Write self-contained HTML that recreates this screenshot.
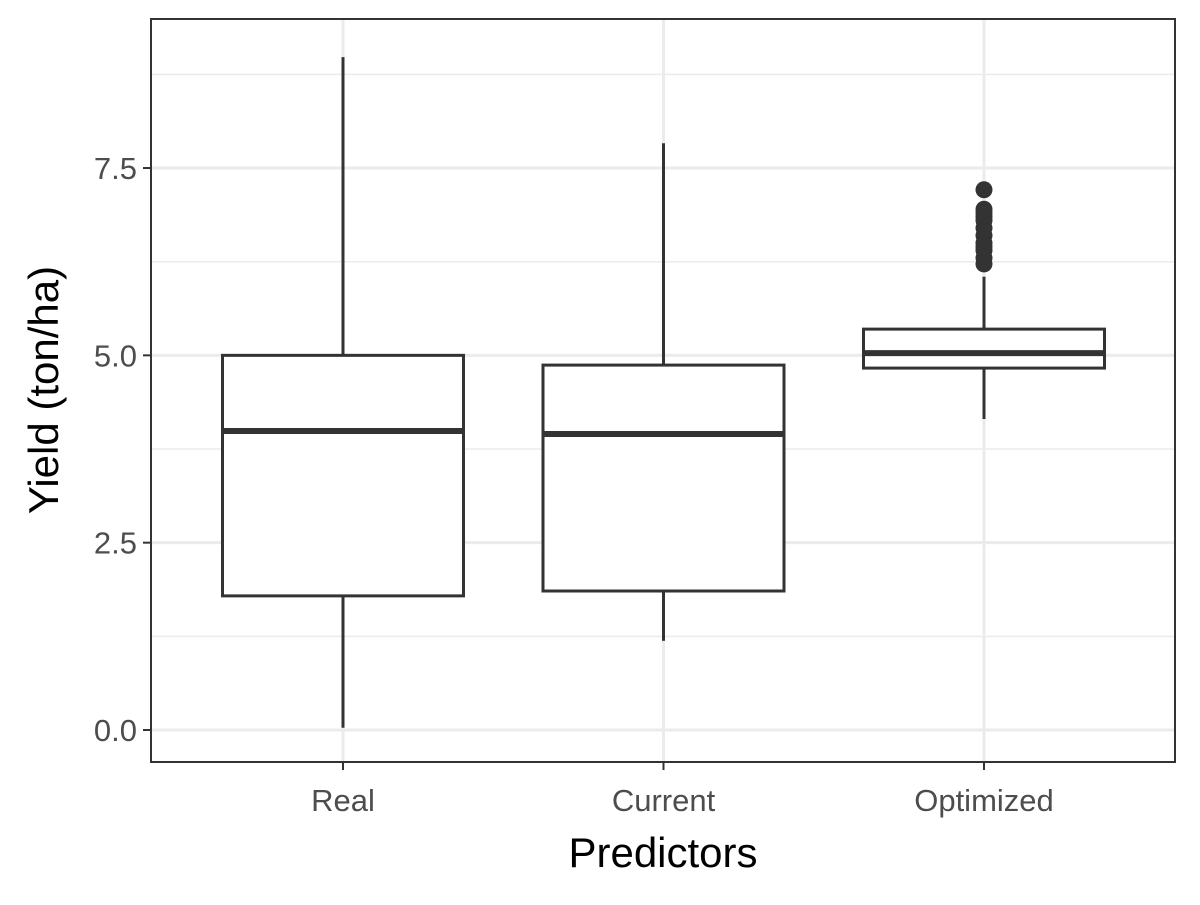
<!DOCTYPE html>
<html><head><meta charset="utf-8"><style>body{margin:0;background:#fff}</style></head><body>
<svg id="chart" width="1200" height="900" xmlns="http://www.w3.org/2000/svg" font-family="Liberation Sans, sans-serif">
<rect width="1200" height="900" fill="#fff"/>
<g id="grid"></g><g id="marks"></g><g id="axes"></g>
<text x="663" y="867" font-size="42" text-anchor="middle" fill="#000">Predictors</text>
<text transform="translate(58,390) rotate(-90)" font-size="42" text-anchor="middle" fill="#000">Yield (ton/ha)</text>
</svg>
<script>
const categories=["Real","Current","Optimized"];
const lowerWhisker=[0.03,1.19,4.15];
const q1=[1.79,1.855,4.83];
const median=[3.99,3.95,5.03];
const q3=[5.0,4.87,5.35];
const upperWhisker=[8.98,7.83,6.05];
const outliers=[[],[],[7.21,6.95,6.9,6.85,6.8,6.7,6.6,6.5,6.45,6.4,6.3,6.22]];
const yTicks=[0,2.5,5,7.5];
const yTickLabels=["0.0","2.5","5.0","7.5"];
const NS="http://www.w3.org/2000/svg";
const L=151,R=1175,T=19,B=762;
const y=v=>730-v*74.93;
const x=i=>343+i*320.5;
const hw=120.5;
function mk(p,tag,a){const e=document.createElementNS(NS,tag);for(const k in a)e.setAttribute(k,a[k]);p.appendChild(e);return e;}
const g=document.getElementById('grid'),m=document.getElementById('marks'),ax=document.getElementById('axes');
for(let i=0;i<yTicks.length;i++){
 if(i<yTicks.length-1){const ln=mk(g,'line',{x1:L,x2:R,y1:y((yTicks[i]+yTicks[i+1])/2),y2:y((yTicks[i]+yTicks[i+1])/2),stroke:'#ebebeb','stroke-width':1.5});
 }
 const l=mk(g,'line',{x1:L,x2:R,y1:y(yTicks[i]),y2:y(yTicks[i]),stroke:'#ebebeb','stroke-width':3});
 
 const tk=mk(ax,'line',{x1:L-8,x2:L,y1:y(yTicks[i]),y2:y(yTicks[i]),stroke:'#333','stroke-width':2});
 
 const t=mk(ax,'text',{x:L-14,y:y(yTicks[i])+11,'font-size':31,'text-anchor':'end',fill:'#4d4d4d'});t.textContent=yTickLabels[i];
 
}
{const mg=mk(g,'line',{x1:L,x2:R,y1:y(8.75),y2:y(8.75),stroke:'#ebebeb','stroke-width':1.5});
}
categories.forEach((c,i)=>{
 const gl=mk(g,'line',{x1:x(i),x2:x(i),y1:T,y2:B,stroke:'#ebebeb','stroke-width':3});
 
 const w1=mk(m,'line',{x1:x(i),x2:x(i),y1:y(upperWhisker[i]),y2:y(q3[i]),stroke:'#333','stroke-width':3});
 
 const w2=mk(m,'line',{x1:x(i),x2:x(i),y1:y(q1[i]),y2:y(lowerWhisker[i]),stroke:'#333','stroke-width':3});
 
 const b=mk(m,'rect',{x:x(i)-hw,y:y(q3[i]),width:2*hw,height:y(q1[i])-y(q3[i]),fill:'#fff',stroke:'#333','stroke-width':3});
 
 const md=mk(m,'line',{x1:x(i)-hw,x2:x(i)+hw,y1:y(median[i]),y2:y(median[i]),stroke:'#333','stroke-width':6});
 
 outliers[i].forEach(v=>{const p=mk(m,'circle',{cx:x(i),cy:y(v),r:8.5,fill:'#333'});
 });
 const tk=mk(ax,'line',{x1:x(i),x2:x(i),y1:B,y2:B+8,stroke:'#333','stroke-width':2});
 
 const t=mk(ax,'text',{x:x(i),y:811,'font-size':31,'text-anchor':'middle',fill:'#4d4d4d'});t.textContent=c;
 
});
const fr=mk(ax,'rect',{x:L,y:T,width:R-L,height:B-T,fill:'none',stroke:'#333','stroke-width':2});

</script>
</body></html>
